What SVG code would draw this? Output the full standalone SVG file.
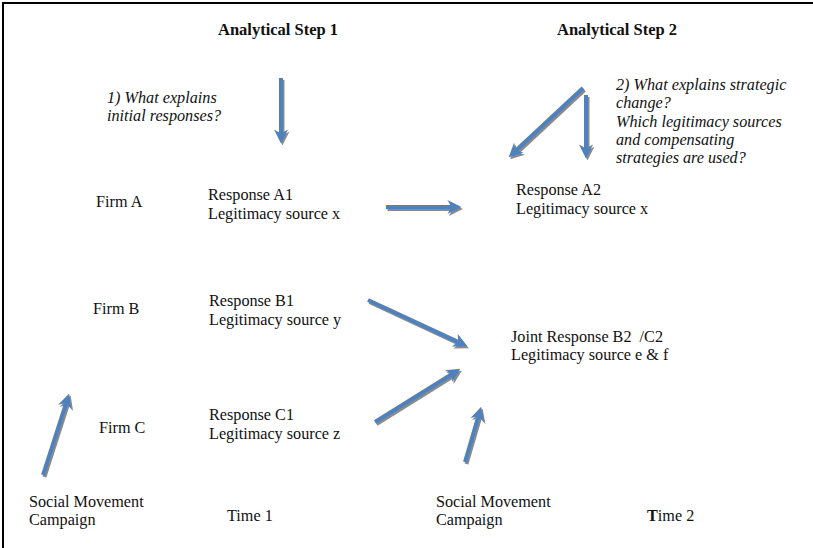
<svg xmlns="http://www.w3.org/2000/svg" width="813" height="548" viewBox="0 0 813 548">
<style>
text{font-family:"Liberation Serif","Times New Roman",serif;font-size:16.2px;fill:#111}
.h{font-weight:bold;font-size:16.5px}
.i{font-style:italic}
.sh{stroke:#8a8a8a;stroke-width:4;fill:none}
.ar{stroke:#4f81bd;stroke-width:4;fill:none}
</style>
<defs>
<marker id="hb" viewBox="0 0 10 10" refX="4" refY="5" markerWidth="3.5" markerHeight="3.5" orient="auto"><path d="M0,0 L10,5 L0,10 L3,5 z" fill="#4f81bd"/></marker>
<marker id="hg" viewBox="0 0 10 10" refX="4" refY="5" markerWidth="3.5" markerHeight="3.5" orient="auto"><path d="M0,0 L10,5 L0,10 L3,5 z" fill="#8a8a8a"/></marker>
</defs>
<rect width="813" height="548" fill="#fff"/>
<path d="M3,560 L3,3 L820,3" stroke="#000" stroke-width="2" fill="none"/>
<g id="headings">
<text class="h" x="218" y="35">Analytical Step 1</text>
<text class="h" x="557" y="35">Analytical Step 2</text>
</g>
<g id="q1"><text class="i" x="107" y="103">1) What explains</text><text class="i" x="107" y="121">initial responses?</text></g>
<g id="q2"><text class="i" x="616" y="90">2) What explains strategic</text><text class="i" x="616" y="108">change?</text><text class="i" x="616" y="127">Which legitimacy sources</text><text class="i" x="616" y="145">and compensating</text><text class="i" x="616" y="163">strategies are used?</text></g>
<g id="firmA"><text x="96" y="207">Firm A</text></g>
<g id="firmB"><text x="93" y="314">Firm B</text></g>
<g id="firmC"><text x="99" y="433">Firm C</text></g>
<g id="respA1"><text x="208" y="200">Response A1</text><text x="208" y="219">Legitimacy source x</text></g>
<g id="respB1"><text x="209" y="306">Response B1</text><text x="209" y="325">Legitimacy source y</text></g>
<g id="respC1"><text x="209" y="420">Response C1</text><text x="209" y="439">Legitimacy source z</text></g>
<g id="respA2"><text x="516" y="195">Response A2</text><text x="516" y="214">Legitimacy source x</text></g>
<g id="respB2C2"><text x="511" y="342" xml:space="preserve">Joint Response B2  /C2</text><text x="511" y="360">Legitimacy source e &amp; f</text></g>
<g id="smc1"><text x="29" y="507">Social Movement</text><text x="29" y="525">Campaign</text></g>
<g id="time1"><text x="227" y="521">Time 1</text></g>
<g id="smc2"><text x="436" y="507">Social Movement</text><text x="436" y="525">Campaign</text></g>
<g id="time2"><text x="647" y="521"><tspan font-weight="bold">T</tspan>ime 2</text></g>
<g id="connectors">
<g transform="translate(1.5,2)" class="sh">
<line x1="281" y1="78" x2="281" y2="135" marker-end="url(#hg)"/>
<line x1="583" y1="88" x2="514.8" y2="151.5" marker-end="url(#hg)"/>
<line x1="586" y1="95" x2="586" y2="150" marker-end="url(#hg)"/>
<line x1="386" y1="207" x2="453" y2="207" marker-end="url(#hg)"/>
<line x1="368" y1="300" x2="459.7" y2="342.6" marker-end="url(#hg)"/>
<line x1="375" y1="422" x2="453.2" y2="373.2" marker-end="url(#hg)"/>
<line x1="43" y1="475" x2="66.6" y2="401.6" marker-end="url(#hg)"/>
<line x1="465" y1="462" x2="478.8" y2="414.7" marker-end="url(#hg)"/>
</g>
<g class="ar">
<line x1="281" y1="78" x2="281" y2="135" marker-end="url(#hb)"/>
<line x1="583" y1="88" x2="514.8" y2="151.5" marker-end="url(#hb)"/>
<line x1="586" y1="95" x2="586" y2="150" marker-end="url(#hb)"/>
<line x1="386" y1="207" x2="453" y2="207" marker-end="url(#hb)"/>
<line x1="368" y1="300" x2="459.7" y2="342.6" marker-end="url(#hb)"/>
<line x1="375" y1="422" x2="453.2" y2="373.2" marker-end="url(#hb)"/>
<line x1="43" y1="475" x2="66.6" y2="401.6" marker-end="url(#hb)"/>
<line x1="465" y1="462" x2="478.8" y2="414.7" marker-end="url(#hb)"/>
</g>
</g>
</svg>
